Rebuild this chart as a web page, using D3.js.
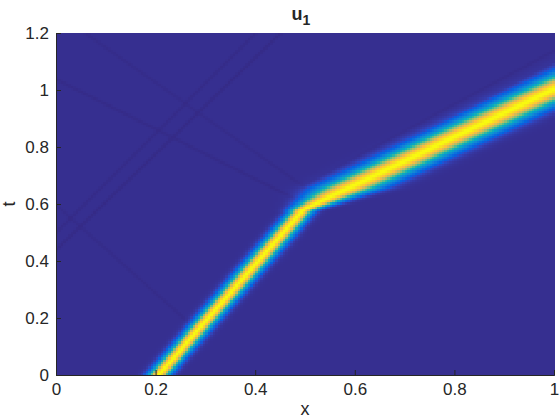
<!DOCTYPE html>
<html>
<head>
<meta charset="utf-8">
<script src="https://cdn.jsdelivr.net/npm/d3@7"></script>
<style>
  body { margin: 0; background: #fff; }
  text { font-family: "Liberation Sans", Arial, Helvetica, sans-serif; fill: #262626; }
</style>
</head>
<body>
<svg id="chart" width="560" height="420"></svg>
<script>
const xTicks = [0, 0.2, 0.4, 0.6, 0.8, 1];
const tTicks = [0, 0.2, 0.4, 0.6, 0.8, 1, 1.2];

// centre of the pulse (time -> position)
const ridgeT = [0, 0.58, 1.2];
const ridgeX = [0.205, 0.495, 1.23];

// pulse width (in x) at given times
const widthT = [0, 0.575, 0.655, 1.2];
const widthX = [0.019, 0.021, 0.052, 0.058];

// faint reflected streaks
const ghostStart = [[0, 0.44], [0, 0.5], [0, 0.6], [0, 1.04], [0.06, 1.2], [0.5, 0.63], [0.5, 0.67]];
const ghostEnd = [[0.45, 1.2], [0.4, 1.2], [0.27, 0.18], [0.48, 0.62], [0.5, 0.66], [1, 1.1], [1, 1.14]];
const ghostAmp = [-0.012, -0.01, -0.008, -0.01, -0.008, -0.01, -0.008];

// MATLAB parula (R2014b): [position, r, g, b]
const parula = [
  [0, 0.2081, 0.1663, 0.5292], [1, 0.2116, 0.1898, 0.5777], [2, 0.2123, 0.2138, 0.627],
  [4, 0.1959, 0.2645, 0.7279], [6, 0.1253, 0.3242, 0.8303], [8, 0.0117, 0.3875, 0.882],
  [12, 0.0498, 0.4586, 0.8641], [16, 0.0793, 0.52, 0.8312], [20, 0.0343, 0.5966, 0.8199],
  [24, 0.0228, 0.6535, 0.7768], [28, 0.0843, 0.6928, 0.7062], [32, 0.2178, 0.725, 0.6193],
  [36, 0.3953, 0.7459, 0.5244], [40, 0.5709, 0.7485, 0.4494], [44, 0.7184, 0.7411, 0.3905],
  [48, 0.8507, 0.7299, 0.336], [52, 0.9739, 0.7314, 0.2666], [54, 0.999, 0.7653, 0.2164],
  [56, 0.988, 0.8066, 0.1794], [60, 0.9589, 0.8949, 0.1132], [63, 0.9763, 0.9831, 0.0538]
];

const width = 560, height = 420;
const margin = { top: 33, right: 6, bottom: 45, left: 56 };
const nx = 200, nt = 150;

const svg = d3.select("#chart");
const x = d3.scaleLinear().domain([0, 1]).range([margin.left, width - margin.right]);
const y = d3.scaleLinear().domain([0, 1.2]).range([height - margin.bottom, margin.top]);

const centre = d3.scaleLinear().domain(ridgeT).range(ridgeX);
const spread = d3.scaleLinear().domain(widthT).range(widthX).clamp(true);

const lo = -0.012, hi = 1;
const color = d3.scaleLinear()
  .domain(parula.map(p => lo + (hi - lo) * p[0] / 63))
  .range(parula.map(p => d3.rgb(p[1] * 255, p[2] * 255, p[3] * 255)))
  .clamp(true);

function ghost(px, py) {
  let v = 0;
  ghostStart.forEach((s, i) => {
    const ax = x(s[0]), ay = y(s[1]);
    const bx = x(ghostEnd[i][0]), by = y(ghostEnd[i][1]);
    const dx = bx - ax, dy = by - ay;
    let k = ((px - ax) * dx + (py - ay) * dy) / (dx * dx + dy * dy);
    k = Math.max(0, Math.min(1, k));
    const d = Math.hypot(px - ax - k * dx, py - ay - k * dy);
    v += ghostAmp[i] * Math.exp(-(d * d) / 3);
  });
  return v;
}

const cells = [];
for (let j = 0; j < nt; j++) {
  const t0 = 1.2 * j / nt, t1 = 1.2 * (j + 1) / nt, tc = (t0 + t1) / 2;
  const c = centre(tc), s = spread(tc);
  for (let i = 0; i < nx; i++) {
    const x0 = i / nx, x1 = (i + 1) / nx, xc = (x0 + x1) / 2;
    const u = Math.exp(-Math.pow((xc - c) / s, 2)) + ghost(x(xc), y(tc));
    cells.push({ x0, x1, t0, t1, u });
  }
}

svg.append("g")
  .attr("shape-rendering", "crispEdges")
  .selectAll("rect")
  .data(cells)
  .join("rect")
  .attr("x", d => x(d.x0))
  .attr("y", d => y(d.t1))
  .attr("width", d => x(d.x1) - x(d.x0) + 0.6)
  .attr("height", d => y(d.t0) - y(d.t1) + 0.6)
  .attr("fill", d => color(d.u));

const xAxis = svg.append("g")
  .attr("transform", `translate(0,${height - margin.bottom})`)
  .call(d3.axisBottom(x).tickValues(xTicks).tickFormat(d3.format("~g"))
    .tickSizeInner(-5).tickSizeOuter(0).tickPadding(8));

const yAxis = svg.append("g")
  .attr("transform", `translate(${margin.left},0)`)
  .call(d3.axisLeft(y).tickValues(tTicks).tickFormat(d3.format("~g"))
    .tickSizeInner(-5).tickSizeOuter(0).tickPadding(7));

[xAxis, yAxis].forEach(g => {
  g.attr("font-family", null).attr("font-size", null);
  g.selectAll("path, line").attr("stroke", "#262626");
  g.selectAll("text").style("font-size", "17px");
});

const title = svg.append("text")
  .attr("x", (margin.left + width - margin.right) / 2 - 4)
  .attr("y", 20)
  .attr("text-anchor", "middle")
  .style("font-weight", "bold")
  .style("font-size", "18px");
title.append("tspan").text("u");
title.append("tspan").attr("dy", 5).style("font-size", "14px").text("1");

svg.append("text")
  .attr("x", (margin.left + width - margin.right) / 2)
  .attr("y", 415)
  .attr("text-anchor", "middle")
  .style("font-size", "18px")
  .text("x");

svg.append("text")
  .attr("transform", `translate(15,${(margin.top + height - margin.bottom) / 2}) rotate(-90)`)
  .attr("text-anchor", "middle")
  .style("font-size", "18px")
  .text("t");
</script>
</body>
</html>
